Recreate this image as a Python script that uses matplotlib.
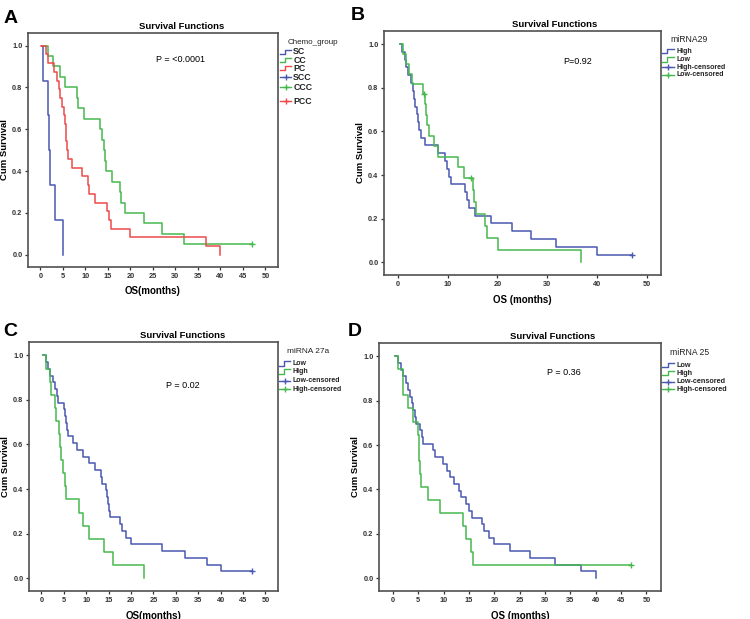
import matplotlib.pyplot as plt

plt.rcParams['font.family'] = ['Liberation Sans', 'DejaVu Sans']

BLUE = '#4a58b2'
GREEN = '#46b84e'
RED = '#ee4a4a'

# ---- panel A: chemo groups (time, survival after the step)
sc_t = [0.3, 0.5, 1.6, 1.85, 2.2, 3.3, 5.0]
sc_s = [1.0, 0.833, 0.667, 0.5, 0.333, 0.167, 0.0]

cc_t = [0.8, 1.8, 2.7, 4.3, 5.4, 8.1, 8.3, 9.8, 13.3, 13.7, 14.1, 14.3, 14.6, 15.9,
        17.6, 18.0, 18.7, 23.0, 27.0, 32.0, 47.0]
cc_s = [1.0, 0.95, 0.9, 0.85, 0.8, 0.75, 0.7, 0.65, 0.6, 0.55, 0.5, 0.45, 0.4, 0.35,
        0.3, 0.25, 0.2, 0.15, 0.1, 0.05, 0.05]

pc_t = [0.2, 1.3, 1.8, 3.1, 3.7, 4.1, 4.4, 4.8, 5.2, 5.4, 5.6, 5.8, 6.0, 6.2, 7.0,
        9.2, 10.5, 10.8, 12.2, 14.9, 15.2, 15.7, 19.9, 36.9, 40.0]
pc_s = [1.0, 0.958, 0.917, 0.875, 0.833, 0.792, 0.75, 0.708, 0.667, 0.625, 0.583,
        0.542, 0.5, 0.458, 0.417, 0.375, 0.333, 0.292, 0.25, 0.208, 0.167, 0.125,
        0.083, 0.042, 0.0]

# ---- panel B: miRNA29
b_high_t = [0.4, 0.9, 1.4, 1.7, 2.1, 2.7, 3.0, 3.3, 3.5, 3.8, 4.1, 4.3, 4.7, 5.5, 8.1,
            9.4, 9.8, 10.2, 10.7, 13.4, 13.9, 14.3, 15.6, 18.8, 23.0, 26.8, 31.8, 40.0, 47.0]
b_high_s = [1.0, 0.964, 0.929, 0.893, 0.857, 0.821, 0.786, 0.75, 0.714, 0.679, 0.643,
            0.607, 0.571, 0.536, 0.5, 0.464, 0.429, 0.393, 0.357, 0.321, 0.286, 0.25,
            0.214, 0.179, 0.143, 0.107, 0.071, 0.036, 0.036]

b_low_t = [0.5, 1.1, 1.6, 2.3, 2.9, 5.1, 5.5, 5.6, 5.8, 6.3, 7.3, 8.0, 12.0, 13.2,
           15.0, 15.3, 15.7, 17.6, 18.0, 20.2, 36.8]
b_low_s = [1.0, 0.955, 0.909, 0.864, 0.818, 0.773, 0.725, 0.676, 0.628, 0.580, 0.531,
           0.483, 0.435, 0.386, 0.331, 0.276, 0.221, 0.166, 0.110, 0.055, 0.0]
b_low_cens_t = [5.3, 14.6]
b_low_cens_s = [0.773, 0.386]

# ---- panel C: miRNA 27a
c_low_t = [0.4, 1.0, 1.5, 2.0, 2.5, 3.0, 3.4, 3.7, 5.0, 5.3, 5.6, 5.8, 6.0, 7.0, 8.0,
           9.2, 10.7, 12.0, 13.2, 13.5, 14.4, 14.7, 14.9, 15.1, 15.4, 17.6, 17.9,
           18.8, 19.9, 26.9, 32.0, 36.9, 40.0, 47.0]
c_low_s = [1.0, 0.970, 0.939, 0.909, 0.879, 0.848, 0.818, 0.788, 0.758, 0.727, 0.697,
           0.667, 0.636, 0.606, 0.576, 0.545, 0.515, 0.485, 0.455, 0.424, 0.394, 0.364,
           0.333, 0.303, 0.273, 0.242, 0.212, 0.182, 0.152, 0.121, 0.091, 0.061, 0.030,
           0.030]

c_high_t = [0.4, 1.0, 2.0, 2.1, 3.0, 3.3, 4.0, 4.2, 4.4, 4.9, 5.2, 5.5, 8.3, 9.2, 10.7,
            14.0, 15.9, 23.0]
c_high_s = [1.0, 0.941, 0.882, 0.824, 0.765, 0.706, 0.647, 0.588, 0.529, 0.471, 0.412,
            0.353, 0.294, 0.235, 0.176, 0.118, 0.059, 0.0]

# ---- panel D: miRNA 25
d_low_t = [0.5, 1.0, 1.5, 2.0, 2.5, 3.0, 3.3, 3.7, 4.0, 4.3, 4.5, 5.3, 5.7, 6.0, 8.0,
           8.3, 9.9, 10.7, 11.2, 12.1, 13.1, 13.5, 14.5, 15.0, 15.5, 17.5, 18.0, 19.0,
           20.0, 23.0, 27.0, 32.0, 37.0, 40.0]
d_low_s = [1.0, 0.970, 0.939, 0.909, 0.879, 0.848, 0.818, 0.788, 0.758, 0.727, 0.697,
           0.667, 0.636, 0.606, 0.576, 0.545, 0.515, 0.485, 0.455, 0.424, 0.394, 0.364,
           0.333, 0.303, 0.273, 0.242, 0.212, 0.182, 0.152, 0.121, 0.091, 0.061, 0.030,
           0.0]

d_high_t = [0.5, 1.0, 2.0, 2.05, 2.9, 4.0, 5.0, 5.05, 5.2, 5.25, 5.5, 7.0, 9.3, 13.8,
            14.4, 15.3, 15.8, 47.0]
d_high_s = [1.0, 0.941, 0.882, 0.824, 0.765, 0.706, 0.647, 0.588, 0.529, 0.471, 0.412,
            0.353, 0.294, 0.235, 0.176, 0.118, 0.059, 0.059]

yticks = [0.0, 0.2, 0.4, 0.6, 0.8, 1.0]
ytick_labels = ['0.0', '0.2', '0.4', '0.6', '0.8', '1.0']
xticks_5 = list(range(0, 55, 5))
xticks_10 = list(range(0, 60, 10))


def setup(ax, xlabel, xticks):
    ax.set_xlim(-2.75, 52.8)
    ax.set_ylim(-0.058, 1.06)
    ax.set_xticks(xticks)
    ax.set_xticklabels([str(v) for v in xticks])
    ax.set_yticks(yticks)
    ax.set_yticklabels(ytick_labels)
    ax.tick_params(direction='out', length=2.5, width=0.9, labelsize=5.3, colors='#333333', pad=1.5)
    for lab in ax.get_xticklabels() + ax.get_yticklabels():
        lab.set_fontweight('bold')
    for sp in ax.spines.values():
        sp.set_color('#505050')
        sp.set_linewidth(1.2)
    ax.set_title('Survival Functions', x=0.615, fontsize=6.8, fontweight='bold', pad=3)
    ax.set_ylabel('Cum Survival', fontsize=6.8, fontweight='bold', labelpad=2)
    ax.set_xlabel(xlabel, fontsize=7, fontweight='bold', labelpad=5)


def curve(ax, t, s, color, end_cens=False):
    ax.plot(t, s, drawstyle='steps-post', color=color, lw=1.1)
    if end_cens:
        ax.plot(t[-1], s[-1], marker='+', color=color, ms=4, mew=1.0)


def legend(ax, title, labels, colors, cens, x0, ys, ty, tsize, lsize, lweight):
    tr = ax.transAxes
    ax.text(x0 + 0.03, ty, title, transform=tr, fontsize=tsize, va='center', ha='left', color='#222222')
    w = 0.045
    d = 0.009
    for lab, col, c, y in zip(labels, colors, cens, ys):
        if c:
            ax.plot([x0, x0 + w], [y, y], color=col, lw=1.0, transform=tr, clip_on=False)
            ax.plot([x0 + w / 2], [y], marker='+', ms=4, mew=1.0, color=col,
                    transform=tr, clip_on=False)
        else:
            ax.plot([x0, x0 + w * 0.45, x0 + w * 0.45, x0 + w], [y - d, y - d, y + d, y + d],
                    color=col, lw=1.0, transform=tr, clip_on=False)
        ax.text(x0 + w + 0.008, y, lab, transform=tr, fontsize=lsize, fontweight=lweight,
                va='center', ha='left', color='#222222')


fig = plt.figure(figsize=(7.5, 6.19), dpi=100)

# A
axA = fig.add_axes([0.0373, 0.5687, 0.3333, 0.378])
setup(axA, 'OS(months)', xticks_5)
curve(axA, sc_t, sc_s, BLUE)
curve(axA, cc_t, cc_s, GREEN, end_cens=True)
curve(axA, pc_t, pc_s, RED)
axA.text(0.61, 0.885, 'P = <0.0001', transform=axA.transAxes, fontsize=6.5, ha='center', va='center')
legend(axA, 'Chemo_group', ['SC', 'CC', 'PC', 'SCC', 'CCC', 'PCC'],
       [BLUE, GREEN, RED, BLUE, GREEN, RED], [False, False, False, True, True, True],
       1.008, [0.920, 0.884, 0.850, 0.811, 0.768, 0.709], 0.96, 5.8, 6.3, 'bold')

# B
axB = fig.add_axes([0.512, 0.5557, 0.3693, 0.3942])
setup(axB, 'OS (months)', xticks_10)
curve(axB, b_high_t, b_high_s, BLUE, end_cens=True)
curve(axB, b_low_t, b_low_s, GREEN)
axB.plot(b_low_cens_t, b_low_cens_s, ls='none', marker='+', ms=4, mew=1.0, color=GREEN)
axB.text(0.698, 0.877, 'P=0.92', transform=axB.transAxes, fontsize=6.5, ha='center', va='center')
legend(axB, 'miRNA29', ['High', 'Low', 'High-censored', 'Low-censored'],
       [BLUE, GREEN, BLUE, GREEN], [False, False, True, True],
       1.003, [0.918, 0.884, 0.851, 0.820], 0.966, 6.2, 5, 'bold')

# C
axC = fig.add_axes([0.0387, 0.0452, 0.332, 0.4023])
setup(axC, 'OS(months)', xticks_5)
curve(axC, c_low_t, c_low_s, BLUE, end_cens=True)
curve(axC, c_high_t, c_high_s, GREEN)
axC.text(0.616, 0.827, 'P = 0.02', transform=axC.transAxes, fontsize=6.5, ha='center', va='center')
legend(axC, 'miRNA 27a', ['Low', 'High', 'Low-censored', 'High-censored'],
       [BLUE, GREEN, BLUE, GREEN], [False, False, True, True],
       1.005, [0.914, 0.881, 0.845, 0.811], 0.961, 6, 5, 'bold')

# D
axD = fig.add_axes([0.5053, 0.0452, 0.3756, 0.4007])
setup(axD, 'OS (months)', xticks_5)
curve(axD, d_low_t, d_low_s, BLUE)
curve(axD, d_high_t, d_high_s, GREEN, end_cens=True)
axD.text(0.656, 0.882, 'P = 0.36', transform=axD.transAxes, fontsize=6.5, ha='center', va='center')
legend(axD, 'miRNA 25', ['Low', 'High', 'Low-censored', 'High-censored'],
       [BLUE, GREEN, BLUE, GREEN], [False, False, True, True],
       1.004, [0.911, 0.878, 0.844, 0.813], 0.961, 6.2, 5.2, 'bold')

# panel letters
for lx, ly, letter in [(0.005, 0.97, 'A'), (0.468, 0.975, 'B'), (0.005, 0.465, 'C'), (0.464, 0.465, 'D')]:
    fig.text(lx, ly, letter, fontsize=14, fontweight='bold', va='center', ha='left')

fig.savefig('out.png', dpi=100)
